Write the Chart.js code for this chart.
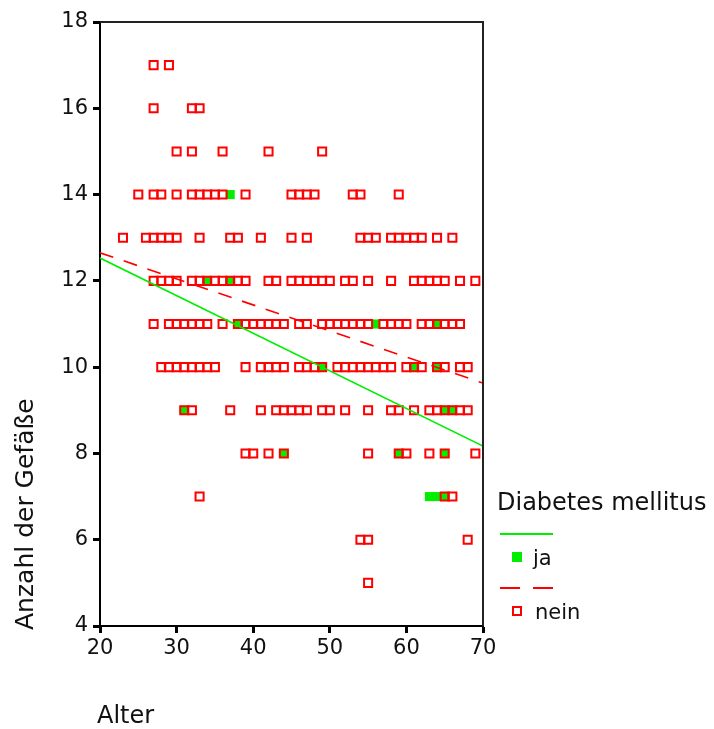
<!DOCTYPE html>
<html>
<head>
<meta charset="utf-8">
<script src="https://cdn.jsdelivr.net/npm/chart.js@4"></script>
<style>
  body { margin: 0; background: #fff; }
  canvas { display: block; }
</style>
</head>
<body>
<canvas id="gefaesse" width="714" height="729"></canvas>
<script>
// Anzahl der Gefäße je Alter, getrennt nach Diabetes mellitus (ja / nein)
const countLevels = [17, 16, 15, 14, 13, 12, 11, 10, 9, 8, 7, 6, 5];

// Alter der Patienten ohne Diabetes, eine Liste pro Gefäßanzahl
const neinAges = [
  [27, 29],
  [27, 32, 33],
  [30, 32, 36, 42, 49],
  [25, 27, 28, 30, 32, 33, 34, 35, 36, 39, 45, 46, 47, 48, 53, 54, 59],
  [23, 26, 27, 28, 29, 30, 33, 37, 38, 41, 45, 47, 54, 55, 56, 58, 59, 60, 61, 62, 64, 66],
  [27, 28, 29, 30, 32, 33, 34, 35, 36, 37, 38, 39, 42, 43, 45, 46, 47, 48, 49, 50, 52, 53, 55, 58, 61, 62, 63, 64, 65, 67, 69],
  [27, 29, 30, 31, 32, 33, 34, 36, 38, 39, 40, 41, 42, 43, 44, 46, 47, 49, 50, 51, 52, 53, 54, 55, 57, 58, 59, 60, 62, 63, 64, 65, 66, 67],
  [28, 29, 30, 31, 32, 33, 34, 35, 39, 41, 42, 43, 44, 46, 47, 48, 49, 51, 52, 53, 54, 55, 56, 57, 58, 60, 61, 62, 64, 65, 67, 68],
  [31, 32, 37, 41, 43, 44, 45, 46, 47, 49, 50, 52, 55, 58, 59, 61, 63, 64, 65, 66, 67, 68],
  [39, 40, 42, 44, 55, 59, 60, 63, 65, 69],
  [33, 65, 66],
  [54, 55, 68],
  [55],
];

// Alter der Patienten mit Diabetes
const jaAges = [
  [],
  [],
  [],
  [37],
  [],
  [34, 37],
  [38, 56, 64],
  [49, 61, 64],
  [31, 65, 66],
  [44, 59, 65],
  [63, 64, 65],
  [],
  [],
];

// Regressionsgeraden (Werte an Alter 20 und 70)
const fitAges = [20, 70];
const jaFit = [12.53, 8.17];
const neinFit = [12.65, 9.63];

const xTicks = [20, 30, 40, 50, 60, 70];
const yTicks = [4, 6, 8, 10, 12, 14, 16, 18];

const RED = "#ff0000";
const GREEN = "#00ee00";
const FONT = "DejaVu Sans";

function toPoints(agesByCount) {
  const pts = [];
  agesByCount.forEach((ages, i) => {
    ages.forEach((age) => pts.push({ x: age, y: countLevels[i] }));
  });
  return pts;
}

function fitLine(values) {
  return fitAges.map((a, i) => ({ x: a, y: values[i] }));
}

// Rahmen, Achsentitel und Legende
const decorations = {
  id: "decorations",
  afterDraw(chart) {
    const ctx = chart.ctx;
    const area = chart.chartArea;
    ctx.save();

    ctx.strokeStyle = "#222";
    ctx.lineWidth = 2;
    ctx.beginPath();
    ctx.moveTo(area.left, area.top);
    ctx.lineTo(area.right, area.top);
    ctx.lineTo(area.right, area.bottom);
    ctx.stroke();

    ctx.fillStyle = "#111";
    ctx.textAlign = "left";
    ctx.textBaseline = "alphabetic";

    ctx.font = "24px '" + FONT + "'";
    ctx.fillText("Alter", 97, 723);

    ctx.save();
    ctx.font = "25px '" + FONT + "'";
    ctx.translate(33, 630);
    ctx.rotate(-Math.PI / 2);
    ctx.fillText("Anzahl der Gefäße", 0, 0);
    ctx.restore();

    // Legende
    ctx.font = "24px '" + FONT + "'";
    ctx.fillText("Diabetes mellitus", 497, 510);

    ctx.lineWidth = 2;
    ctx.strokeStyle = GREEN;
    ctx.beginPath();
    ctx.moveTo(500, 534);
    ctx.lineTo(553, 534);
    ctx.stroke();
    ctx.fillStyle = GREEN;
    ctx.fillRect(512, 552, 10, 10);

    ctx.strokeStyle = RED;
    ctx.setLineDash([20, 13]);
    ctx.beginPath();
    ctx.moveTo(500, 588);
    ctx.lineTo(553, 588);
    ctx.stroke();
    ctx.setLineDash([]);
    ctx.strokeRect(513, 607, 8, 8);

    ctx.fillStyle = "#111";
    ctx.font = "21px '" + FONT + "'";
    ctx.fillText("ja", 533, 565);
    ctx.fillText("nein", 535, 619);

    ctx.restore();
  },
};

new Chart(document.getElementById("gefaesse"), {
  type: "scatter",
  data: {
    datasets: [
      {
        type: "line",
        label: "ja (Anpassung)",
        data: fitLine(jaFit),
        borderColor: GREEN,
        borderWidth: 1.6,
        pointRadius: 0,
        fill: false,
        order: 0,
      },
      {
        type: "line",
        label: "nein (Anpassung)",
        data: fitLine(neinFit),
        borderColor: RED,
        borderWidth: 1.6,
        borderDash: [14, 11],
        pointRadius: 0,
        fill: false,
        order: 1,
      },
      {
        label: "nein",
        data: toPoints(neinAges),
        pointStyle: "rect",
        pointRadius: 5.7,
        pointBorderWidth: 2,
        pointBorderColor: RED,
        pointBackgroundColor: "rgba(255,255,255,0)",
        order: 2,
      },
      {
        label: "ja",
        data: toPoints(jaAges),
        pointStyle: "rect",
        pointRadius: 6.4,
        pointBorderWidth: 0,
        pointBackgroundColor: GREEN,
        pointBorderColor: GREEN,
        order: 3,
      },
    ],
  },
  options: {
    responsive: false,
    animation: false,
    layout: {
      padding: { top: 22, right: 231, left: 0, bottom: 0 },
    },
    plugins: {
      legend: { display: false },
      tooltip: { enabled: false },
    },
    scales: {
      x: {
        type: "linear",
        min: 20,
        max: 70,
        afterBuildTicks: (scale) => {
          scale.ticks = xTicks.map((v) => ({ value: v }));
        },
        afterFit: (scale) => {
          scale.height = 103;
        },
        border: { display: true, color: "#000", width: 2 },
        grid: {
          display: true,
          drawOnChartArea: false,
          drawTicks: true,
          tickLength: 7,
          tickWidth: 3,
          tickColor: "#000",
        },
        ticks: {
          color: "#111",
          padding: 3,
          maxRotation: 0,
          font: { family: FONT, size: 21 },
        },
      },
      y: {
        type: "linear",
        min: 4,
        max: 18,
        afterBuildTicks: (scale) => {
          scale.ticks = yTicks.map((v) => ({ value: v }));
        },
        afterFit: (scale) => {
          scale.width = 100;
        },
        border: { display: true, color: "#000", width: 2 },
        grid: {
          display: true,
          drawOnChartArea: false,
          drawTicks: true,
          tickLength: 7,
          tickWidth: 3,
          tickColor: "#000",
        },
        ticks: {
          color: "#111",
          padding: 5,
          font: { family: FONT, size: 21 },
        },
      },
    },
  },
  plugins: [decorations],
});
</script>
</body>
</html>
